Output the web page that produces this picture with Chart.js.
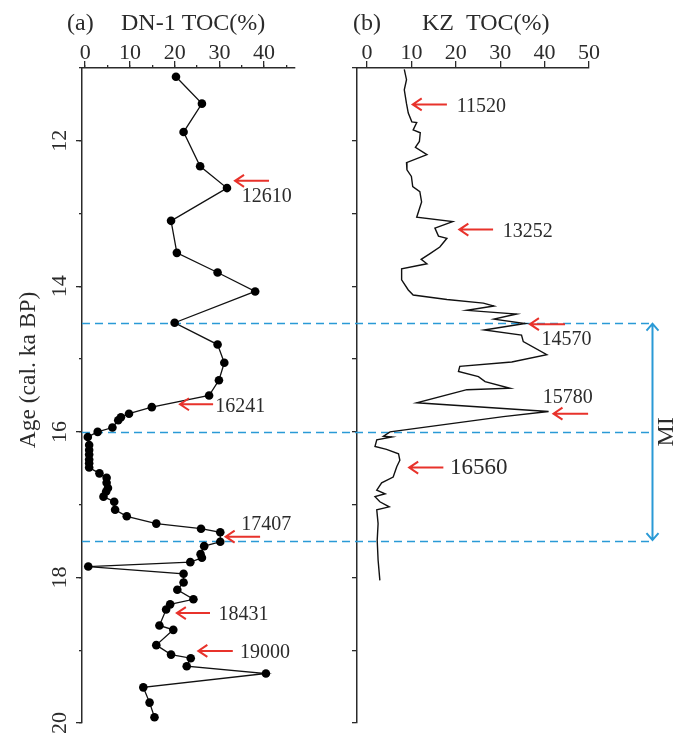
<!DOCTYPE html>
<html>
<head>
<meta charset="utf-8">
<title>DN-1 / KZ TOC</title>
<script src="https://cdn.jsdelivr.net/npm/chart.js@4.4.1/dist/chart.umd.min.js"></script>
<style>
    html, body { margin: 0; padding: 0; background: #fff; }
    #wrap { position: relative; width: 676px; height: 734px; overflow: hidden; }
    #wrap canvas { position: absolute; top: 0; }
    #dnChart { left: 0; }
    #kzChart { left: 340px; }
</style>
</head>
<body>
<div id="wrap">
    <canvas id="dnChart" width="340" height="734"></canvas>
    <canvas id="kzChart" width="336" height="734"></canvas>
</div>
<script>
// panel (a) DN-1 TOC (%) against age (cal. ka BP)
const dnAge = [11.12, 11.49, 11.88, 12.35, 12.65, 13.10, 13.54, 13.81, 14.07, 14.50,
    14.80, 15.05, 15.29, 15.50, 15.66, 15.75, 15.80, 15.84, 15.94, 16.00,
    16.07, 16.18, 16.25, 16.31, 16.38, 16.43, 16.49, 16.57, 16.63, 16.70,
    16.77, 16.82, 16.89, 16.96, 17.07, 17.16, 17.26, 17.33, 17.38, 17.51,
    17.57, 17.68, 17.73, 17.79, 17.85, 17.95, 18.07, 18.17, 18.30, 18.37,
    18.44, 18.66, 18.72, 18.93, 19.06, 19.11, 19.22, 19.32, 19.51, 19.72, 19.92];
const dnToc = [20.3, 26.1, 22.0, 25.7, 31.7, 19.2, 20.5, 29.6, 38.0, 20.0,
    29.6, 31.1, 29.9, 27.7, 14.9, 9.8, 8.0, 7.4, 6.1, 2.8,
    0.6, 0.9, 0.9, 0.9, 0.9, 0.9, 0.9, 3.2, 4.8, 4.8,
    5.1, 4.7, 4.1, 6.5, 6.7, 9.3, 15.9, 25.9, 30.2, 30.2,
    26.6, 25.8, 26.1, 23.5, 0.7, 22.0, 22.0, 20.6, 24.2, 19.0,
    18.1, 16.6, 19.7, 15.9, 19.2, 23.6, 22.7, 40.4, 13.0, 14.4, 15.5];

// panel (b) KZ TOC (%)
const kzAge = [11.02, 11.16, 11.30, 11.49, 11.62, 11.74, 11.75, 11.85, 11.89, 12.01,
    12.09, 12.19, 12.30, 12.40, 12.49, 12.63, 12.70, 12.84, 13.05, 13.11,
    13.20, 13.31, 13.34, 13.46, 13.55, 13.63, 13.69, 13.76, 13.91, 14.05,
    14.12, 14.18, 14.23, 14.27, 14.33, 14.38, 14.45, 14.51, 14.60, 14.67,
    14.76, 14.94, 15.04, 15.10, 15.17, 15.24, 15.31, 15.40, 15.42, 15.60,
    15.72, 15.79, 16.00, 16.06, 16.07, 16.11, 16.20, 16.24, 16.30, 16.39,
    16.48, 16.62, 16.70, 16.80, 16.85, 16.89, 16.96, 17.03, 17.07, 17.26,
    17.49, 17.76, 18.04];
const kzToc = [8.4, 8.9, 8.4, 8.9, 9.3, 10.1, 11.2, 10.4, 12.0, 11.8,
    10.9, 13.5, 8.9, 9.0, 10.0, 10.3, 11.9, 12.3, 11.2, 19.3,
    15.3, 16.1, 18.0, 16.4, 14.2, 12.2, 13.5, 7.8, 7.8, 9.3,
    10.4, 18.0, 26.2, 28.6, 22.5, 33.7, 28.6, 35.6, 26.4, 34.8,
    35.2, 40.5, 32.6, 20.9, 20.6, 25.1, 26.6, 32.2, 22.5, 11.2,
    40.9, 30.7, 5.2, 3.7, 5.6, 2.2, 1.8, 4.4, 7.1, 7.4,
    6.7, 5.9, 3.3, 2.2, 4.1, 1.8, 2.9, 5.0, 2.2, 2.5,
    2.3, 2.5, 2.9];

const ageLabels = [12, 14, 16, 18, 20];
const boundaryAges = [14.5, 16.0, 17.5];   // dashed lines, MI between first and last

// dated horizons marked with red arrows: [label, age, arrow head TOC, arrow tail TOC]
const dnDates = ['12610', '16241', '17407', '18431', '19000'];
const dnDateAge = [12.55, 15.62, 17.44, 18.49, 19.01];
const kzDates = ['11520', '13252', '14570', '15780', '16560'];
const kzDateAge = [11.50, 13.22, 14.52, 15.75, 16.49];

const INK = '#2b2b2b';
const BLUE = '#2a9ad6';
const RED = '#e8322b';
const FONT = "'Liberation Serif', 'Times New Roman', serif";

Chart.defaults.font.family = FONT;
Chart.defaults.color = INK;

// arrow / text placement for each dated horizon (TOC units, age units)
const dnNotes = [
    { head: 33.5, tail: 41.1, tx: 35.0, ty: 12.77 },
    { head: 21.2, tail: 28.6, tx: 29.1, ty: 15.66 },
    { head: 31.4, tail: 39.1, tx: 34.9, ty: 17.27 },
    { head: 20.5, tail: 27.9, tx: 29.8, ty: 18.51 },
    { head: 25.3, tail: 33.0, tx: 34.6, ty: 19.04 }
];
const kzNotes = [
    { head: 10.3, tail: 18.0, tx: 20.2, ty: 11.53 },
    { head: 20.8, tail: 28.4, tx: 30.6, ty: 13.25 },
    { head: 36.7, tail: 44.6, tx: 39.3, ty: 14.73 },
    { head: 42.0, tail: 49.8, tx: 39.6, ty: 15.53 },
    { head: 9.5, tail: 17.2, tx: 18.7, ty: 16.50, size: 23 }
];

function fixWidth(w) {
    return function(s) {
        s.width = w;
        s.paddingLeft = s.paddingRight = s.paddingTop = s.paddingBottom = 0;
    };
}
function fixHeight(h) {
    return function(s) {
        s.height = h;
        s.paddingLeft = s.paddingRight = s.paddingTop = s.paddingBottom = 0;
    };
}

function leftArrow(ctx, xh, xt, y) {
    ctx.beginPath();
    ctx.moveTo(xt, y);
    ctx.lineTo(xh, y);
    ctx.moveTo(xh + 9, y - 6);
    ctx.lineTo(xh, y);
    ctx.lineTo(xh + 9, y + 6);
    ctx.stroke();
}

/**
 * Panel decorations: dashed boundaries, dated arrows, headers
 */
function decorPlugin(cfg) {
    return {
        id: 'decor',
        beforeDatasetsDraw(chart) {
            const { ctx, chartArea, scales } = chart;
            const x0 = cfg.dashStart === 'area' ? chartArea.left : 0;
            const x1 = cfg.dashEnd != null ? scales.x.getPixelForValue(cfg.dashEnd) : chart.width;
            ctx.save();
            ctx.strokeStyle = BLUE;
            ctx.lineWidth = 1.6;
            ctx.setLineDash([8, 5]);
            ctx.lineDashOffset = cfg.dashOffset || 0;
            boundaryAges.forEach(a => {
                const py = Math.round(scales.y.getPixelForValue(a)) + 0.5;
                ctx.beginPath();
                ctx.moveTo(x0, py);
                ctx.lineTo(x1, py);
                ctx.stroke();
            });
            ctx.restore();
        },
        afterDraw(chart) {
            const { ctx, chartArea, scales } = chart;
            const xs = scales.x, ys = scales.y;
            ctx.save();

            // red arrows + ages
            ctx.strokeStyle = RED;
            ctx.lineWidth = 2;
            cfg.dateAge.forEach((age, i) => {
                const n = cfg.notes[i];
                leftArrow(ctx, xs.getPixelForValue(n.head), xs.getPixelForValue(n.tail), ys.getPixelForValue(age));
            });
            ctx.fillStyle = INK;
            ctx.textAlign = 'left';
            ctx.textBaseline = 'middle';
            cfg.dates.forEach((label, i) => {
                const n = cfg.notes[i];
                ctx.font = (n.size || 20) + 'px ' + FONT;
                ctx.fillText(label, xs.getPixelForValue(n.tx), ys.getPixelForValue(n.ty));
            });

            // panel header
            ctx.font = '24px ' + FONT;
            ctx.fillText(cfg.tag, chartArea.left + cfg.tagDx, 24);
            ctx.fillText(cfg.title, chartArea.left + cfg.titleDx, 24);

            if (cfg.yTitle) {
                ctx.save();
                ctx.translate(29, 370);
                ctx.rotate(-Math.PI / 2);
                ctx.textAlign = 'center';
                ctx.font = '23.5px ' + FONT;
                ctx.fillText(cfg.yTitle, 0, 0);
                ctx.restore();
            }

            if (cfg.miToc != null) {
                const mx = xs.getPixelForValue(cfg.miToc);
                const top = ys.getPixelForValue(boundaryAges[0]);
                const bot = ys.getPixelForValue(boundaryAges[boundaryAges.length - 1]);
                ctx.strokeStyle = BLUE;
                ctx.lineWidth = 2;
                ctx.beginPath();
                ctx.moveTo(mx, top + 1);
                ctx.lineTo(mx, bot - 1);
                ctx.moveTo(mx - 6, top + 8);
                ctx.lineTo(mx, top + 1);
                ctx.lineTo(mx + 6, top + 8);
                ctx.moveTo(mx - 6, bot - 8);
                ctx.lineTo(mx, bot - 1);
                ctx.lineTo(mx + 6, bot - 8);
                ctx.stroke();
                ctx.save();
                ctx.translate(xs.getPixelForValue(cfg.miTextToc), (top + bot) / 2);
                ctx.rotate(-Math.PI / 2);
                ctx.textAlign = 'center';
                ctx.font = '24px ' + FONT;
                ctx.fillStyle = INK;
                ctx.fillText('MI', 0, 0);
                ctx.restore();
            }
            ctx.restore();
        }
    };
}

const axisLine = { display: true, color: INK, width: 1.5 };

function ageAxis(width, withLabels) {
    return {
        type: 'linear',
        position: 'left',
        reverse: true,
        min: 11,
        max: 20,
        weight: 1,
        afterFit: fixWidth(width),
        border: axisLine,
        grid: { drawOnChartArea: false, tickLength: withLabels ? 6 : 5, color: INK, lineWidth: 1.3 },
        ticks: {
            display: withLabels,
            stepSize: withLabels ? 2 : 1,
            includeBounds: false,
            minRotation: 90,
            maxRotation: 90,
            align: 'start',
            crossAlign: 'center',
            padding: 16,
            font: { size: 22, lineHeight: 1 },
            color: INK,
            callback: v => ageLabels.includes(v) ? String(v) : ''
        }
    };
}

function minorAxis(position, step, min, max, reverse, fit) {
    return {
        type: 'linear',
        position: position,
        reverse: reverse,
        min: min,
        max: max,
        weight: 0,
        afterFit: fit,
        border: { display: false },
        grid: { drawOnChartArea: false, tickLength: 3, color: INK, lineWidth: 1.3 },
        ticks: { display: false, stepSize: step, includeBounds: false }
    };
}

function tocAxis(min, max) {
    return {
        type: 'linear',
        position: 'top',
        min: min,
        max: max,
        weight: 1,
        afterFit: fixHeight(68),
        border: axisLine,
        grid: { drawOnChartArea: false, tickLength: 7, color: INK, lineWidth: 1.3 },
        ticks: {
            stepSize: 10,
            includeBounds: false,
            maxRotation: 0,
            padding: -3,
            font: { size: 22, lineHeight: 1 },
            color: INK
        }
    };
}

const baseOptions = {
    responsive: false,
    animation: false,
    events: [],
    plugins: { legend: { display: false }, tooltip: { enabled: false } }
};

new Chart(document.getElementById('dnChart'), {
    type: 'scatter',
    data: {
        datasets: [{
            label: 'DN-1 TOC(%)',
            data: dnAge.map((a, i) => ({ x: dnToc[i], y: a })),
            showLine: true,
            borderColor: '#111',
            borderWidth: 1.3,
            pointRadius: 4.3,
            pointBackgroundColor: '#000',
            pointBorderWidth: 0
        }]
    },
    options: Object.assign({}, baseOptions, {
        layout: { padding: { left: 0, top: 0, right: 45, bottom: 11 } },
        scales: {
            x: tocAxis(-0.7, 46.9),
            x2: minorAxis('top', 5, -0.7, 46.9, false, fixHeight(0)),
            y: ageAxis(82, true),
            y2: minorAxis('left', 1, 11, 20, true, fixWidth(0))
        }
    }),
    plugins: [decorPlugin({
        dates: dnDates, dateAge: dnDateAge, notes: dnNotes,
        tag: '(a)', tagDx: -15, title: 'DN-1 TOC(%)', titleDx: 39,
        yTitle: 'Age (cal. ka BP)',
        dashStart: 'area'
    })]
});

new Chart(document.getElementById('kzChart'), {
    type: 'scatter',
    data: {
        datasets: [{
            label: 'KZ TOC(%)',
            data: kzAge.map((a, i) => ({ x: kzToc[i], y: a })),
            showLine: true,
            borderColor: '#111',
            borderWidth: 1.4,
            pointRadius: 0
        }]
    },
    options: Object.assign({}, baseOptions, {
        layout: { padding: { left: 0, top: 0, right: 87, bottom: 11 } },
        scales: {
            x: tocAxis(-2.25, 50),
            y: ageAxis(17, false)
        }
    }),
    plugins: [decorPlugin({
        dates: kzDates, dateAge: kzDateAge, notes: kzNotes,
        tag: '(b)', tagDx: -4, title: 'KZ  TOC(%)', titleDx: 65,
        dashEnd: 63.7, dashOffset: 11,
        miToc: 64.3, miTextToc: 67.6
    })]
});
</script>
</body>
</html>
